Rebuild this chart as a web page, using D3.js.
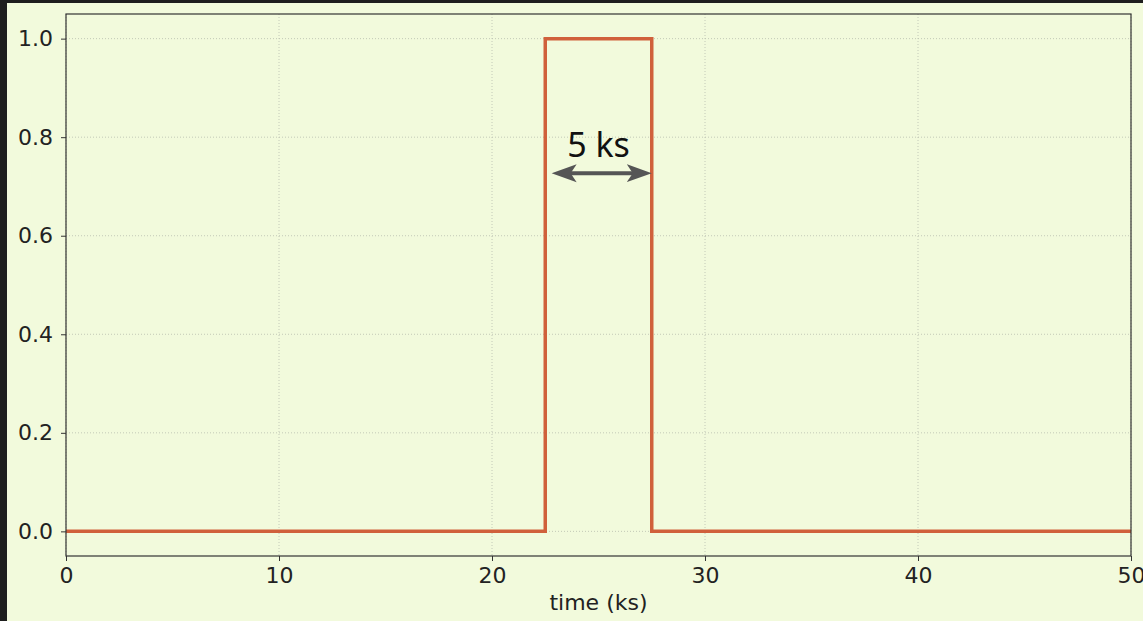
<!DOCTYPE html>
<html>
<head>
<meta charset="utf-8">
<script src="https://cdn.jsdelivr.net/npm/d3@7"></script>
<style>
  html, body { margin: 0; padding: 0; background: #1e1e1e; }
  svg { display: block; }
</style>
</head>
<body>
<div id="svg-container"></div>
<script>
const width = 1143;
const height = 621;
var margin = {top: 14, bottom: 65, left: 66, right: 12};

// ******** DATA *********
var time = [0, 22.5, 22.5, 27.5, 27.5, 50];   // ks
var signal = [0, 0, 1, 1, 0, 0];
var xTicks = [0, 10, 20, 30, 40, 50];
var yTicks = [0.0, 0.2, 0.4, 0.6, 0.8, 1.0];
var arrowSpan = [22.8, 27.5];
var arrowY = 0.727;
var annotation = "5 ks";

// ********* Create SVG *********
var svg = d3.select("#svg-container").append('svg')
.attr('width', width)
.attr('height', height);

svg.append('rect')
.attr('x', 7).attr('y', 3)
.attr('width', width - 7).attr('height', height - 3)
.style('fill', '#f2fadc');

var x_scale = d3.scaleLinear()
.domain([0, 50])
.range([margin.left, width - margin.right]);

var y_scale = d3.scaleLinear()
.domain([-0.05, 1.05])
.range([height - margin.bottom, margin.top]);

// ******** GRID *********
var grid = svg.append('g').attr('class', 'grid');
grid.selectAll('.gx').data(xTicks).enter().append('line')
.attr('x1', d => x_scale(d)).attr('x2', d => x_scale(d))
.attr('y1', margin.top).attr('y2', height - margin.bottom)
.style('stroke', '#b8bcae').style('stroke-width', 0.8)
.style('stroke-dasharray', '1,2');
grid.selectAll('.gy').data(yTicks).enter().append('line')
.attr('y1', d => y_scale(d)).attr('y2', d => y_scale(d))
.attr('x1', margin.left).attr('x2', width - margin.right)
.style('stroke', '#b8bcae').style('stroke-width', 0.8)
.style('stroke-dasharray', '1,2');

// ******** LINE *********
var pts = time.map((t, i) => [t, signal[i]]);
var line = d3.line()
.x(d => x_scale(d[0]))
.y(d => y_scale(d[1]));

svg.append('path')
.datum(pts)
.attr('d', line)
.style('fill', 'none')
.style('stroke', '#d0603b')
.style('stroke-width', 3.5)
.style('stroke-linejoin', 'miter');

// ******** AXES *********
var x_axis = d3.axisBottom(x_scale).tickValues(xTicks).tickFormat(d3.format('d'))
.tickSizeInner(5).tickSizeOuter(0).tickPadding(6);
var gx = svg.append('g')
.attr('transform', `translate(0, ${height - margin.bottom})`)
.call(x_axis);

var y_axis = d3.axisLeft(y_scale).tickValues(yTicks).tickFormat(d3.format('.1f'))
.tickSizeInner(5).tickSizeOuter(0).tickPadding(8);
var gy = svg.append('g')
.attr('transform', `translate(${margin.left}, 0)`)
.call(y_axis);

[gx, gy].forEach(function(g){
  g.select('.domain').remove();
  g.selectAll('line').style('stroke', '#333').style('stroke-width', 1);
  g.selectAll('text')
  .style('font-family', 'DejaVu Sans')
  .style('font-size', '22px')
  .style('fill', '#222');
});

// frame
svg.append('rect')
.attr('x', margin.left).attr('y', margin.top)
.attr('width', width - margin.right - margin.left)
.attr('height', height - margin.bottom - margin.top)
.style('fill', 'none')
.style('stroke', '#333')
.style('stroke-width', 1.2);

svg.append('text')
.text('time (ks)')
.attr('x', (margin.left + width - margin.right) / 2)
.attr('y', 610)
.style('text-anchor', 'middle')
.style('font-family', 'DejaVu Sans')
.style('font-size', '22px')
.style('fill', '#222');

// ******** ANNOTATION *********
var defs = svg.append('defs');
['start', 'end'].forEach(function(k){
  defs.append('marker')
  .attr('id', 'head-' + k)
  .attr('viewBox', '0 -10 26 20')
  .attr('refX', 14).attr('refY', 0)
  .attr('markerUnits', 'userSpaceOnUse')
  .attr('markerWidth', 26).attr('markerHeight', 20)
  .attr('orient', k === 'start' ? 'auto-start-reverse' : 'auto')
  .append('path')
  .attr('d', 'M0,-9 L25,0 L0,9 L6,0 Z')
  .style('fill', '#555');
});

svg.append('line')
.attr('x1', x_scale(arrowSpan[0]) + 11).attr('x2', x_scale(arrowSpan[1]) - 11)
.attr('y1', y_scale(arrowY)).attr('y2', y_scale(arrowY))
.style('stroke', '#555')
.style('stroke-width', 4)
.attr('marker-start', 'url(#head-start)')
.attr('marker-end', 'url(#head-end)');

svg.append('text')
.text(annotation)
.attr('x', x_scale(25))
.attr('y', y_scale(0.76))
.style('text-anchor', 'middle')
.style('font-family', 'Noto Sans')
.style('font-size', '34px')
.style('fill', '#111');
</script>
</body>
</html>
